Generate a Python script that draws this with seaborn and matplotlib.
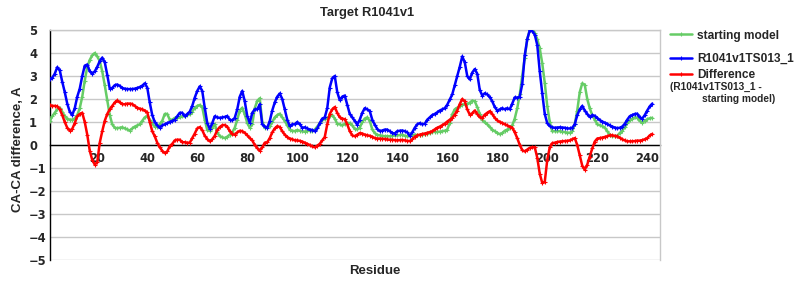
import numpy as np
import pandas as pd
import matplotlib
matplotlib.use("Agg")
import matplotlib.pyplot as plt
import seaborn as sns
from matplotlib.ticker import MultipleLocator

# ---- data ----
residues = list(range(1, 243))

starting_model = [
    1.04, 1.25, 1.4, 1.55, 1.62, 1.45, 1.25, 1.15, 1.1, 1.1,
    1.15, 1.3, 1.6, 2.1, 2.8, 3.4, 3.7, 3.9, 4.0, 3.85,
    3.65, 3.2, 2.6, 1.95, 1.3, 0.9, 0.75, 0.73, 0.75, 0.77,
    0.72, 0.68, 0.63, 0.72, 0.8, 0.85, 0.9, 1.05, 1.2, 1.25,
    1.1, 0.95, 0.8, 0.8, 0.9, 1.05, 1.35, 1.35, 1.1, 1.1,
    1.18, 1.18, 1.2, 1.25, 1.25, 1.3, 1.35, 1.45, 1.62, 1.7,
    1.74, 1.65, 1.1, 0.65, 0.62, 0.75, 0.9, 0.55, 0.38, 0.34,
    0.3, 0.36, 0.45, 0.55, 0.75, 1.1, 1.5, 1.62, 1.33, 0.96,
    0.75, 0.9, 1.6, 1.92, 2.03, 1.0, 0.75, 0.78, 0.82, 1.0,
    1.2, 1.3, 1.36, 1.2, 1.05, 0.85, 0.67, 0.62, 0.6, 0.65,
    0.62, 0.6, 0.58, 0.62, 0.62, 0.6, 0.67, 0.8, 0.95, 1.08,
    1.15, 1.18, 1.25, 1.3, 1.15, 0.92, 0.9, 0.85, 0.92, 0.96,
    0.95, 0.85, 0.7, 0.68, 0.75, 1.0, 1.15, 1.2, 1.05, 0.68,
    0.52, 0.44, 0.42, 0.4, 0.38, 0.38, 0.38, 0.4, 0.42, 0.42,
    0.43, 0.45, 0.4, 0.38, 0.38, 0.43, 0.45, 0.42, 0.43, 0.45,
    0.47, 0.5, 0.54, 0.57, 0.57, 0.57, 0.58, 0.6, 0.62, 0.67,
    0.95, 1.33, 1.55, 1.62, 1.7, 1.76, 1.77, 1.78, 1.84, 1.93,
    1.9, 1.65, 1.35, 1.1, 0.98, 0.9, 0.78, 0.67, 0.6, 0.53,
    0.47, 0.52, 0.62, 0.67, 0.73, 0.85, 1.15, 1.6, 2.2, 3.0,
    3.8, 4.6, 5.0, 5.0, 4.85, 4.6, 4.2, 3.55, 2.7, 1.7,
    1.0, 0.6, 0.6, 0.6, 0.6, 0.58, 0.56, 0.54, 0.53, 0.6,
    0.9, 1.5, 2.3, 2.68, 2.62, 2.0, 1.6, 1.3, 1.1, 0.9,
    0.86, 0.82, 0.76, 0.6, 0.45, 0.38, 0.38, 0.4, 0.52, 0.62,
    0.78, 0.95, 1.07, 1.14, 1.2, 1.18, 1.05, 0.97, 1.05, 1.12,
    1.16, 1.18,
]

model_ts013 = [
    2.87, 2.92, 3.1, 3.38, 3.25, 2.75, 2.3, 1.8, 1.45, 1.3,
    1.6, 2.1, 2.45, 3.0, 3.45, 3.5, 3.2, 3.1, 3.2, 3.4,
    3.65, 3.8, 3.6, 3.05, 2.45, 2.48, 2.6, 2.63, 2.57, 2.48,
    2.45, 2.43, 2.43, 2.43, 2.45, 2.48, 2.52, 2.58, 2.68, 2.5,
    1.85, 1.3, 1.0, 0.85, 0.75, 0.85, 0.9, 0.95, 1.0, 1.05,
    1.1, 1.25, 1.4, 1.4, 1.25, 1.35, 1.45, 1.7, 2.06, 2.35,
    2.55, 2.35, 1.62, 0.96, 0.7, 0.95, 1.25, 1.2, 1.18, 1.2,
    1.22, 1.26, 1.1, 1.07, 1.18, 1.55, 2.1, 2.35, 1.9, 1.26,
    0.96, 1.4, 1.55, 1.55, 1.77, 0.9, 0.8, 0.75, 1.04, 1.5,
    1.85, 2.1, 2.24, 2.0, 1.55, 1.1, 0.82, 0.9, 0.9, 1.0,
    0.9, 0.75, 0.77, 0.72, 0.67, 0.65, 0.6, 0.72, 0.95, 1.15,
    1.2, 1.6, 2.5, 2.9, 3.0, 2.3, 1.95, 2.1, 2.15, 1.75,
    1.35, 1.2, 1.05, 0.88, 1.1, 1.4, 1.6, 1.55, 1.48, 1.1,
    0.88, 0.7, 0.6, 0.63, 0.67, 0.67, 0.6, 0.52, 0.5, 0.6,
    0.62, 0.63, 0.6, 0.55, 0.4, 0.55, 0.75, 0.9, 0.95, 0.9,
    0.92, 1.1, 1.2, 1.3, 1.35, 1.42, 1.5, 1.55, 1.6, 1.75,
    1.98, 2.2, 2.6, 3.0, 3.4, 3.85, 3.6, 3.0, 2.85, 3.15,
    3.3, 3.1, 2.4, 2.15, 2.25, 2.2, 2.08, 1.9, 1.65, 1.5,
    1.55, 1.6, 1.55, 1.6, 1.55, 1.8, 2.07, 2.06, 2.1, 2.65,
    3.9, 4.6, 4.98, 4.95, 4.8, 4.35, 3.2, 2.25, 1.35, 0.95,
    0.82, 0.77, 0.75, 0.76, 0.77, 0.76, 0.75, 0.72, 0.72, 0.75,
    0.9, 1.3, 1.55, 1.7, 1.5, 1.35, 1.22, 1.3, 1.27, 1.18,
    1.08, 1.02, 0.97, 0.92, 0.85, 0.8, 0.76, 0.73, 0.75, 0.8,
    0.92, 1.1, 1.25, 1.3, 1.35, 1.36, 1.2, 1.15, 1.3, 1.5,
    1.68, 1.8,
]

difference = [
    1.74, 1.7, 1.7, 1.68, 1.55, 1.3, 1.0, 0.75, 0.63, 0.7,
    0.95, 1.25, 1.35, 1.4, 1.0, 0.45, -0.25, -0.65, -0.85, -0.75,
    0.1, 0.6, 1.05, 1.35, 1.55, 1.7, 1.85, 1.94, 1.85, 1.78,
    1.77, 1.8, 1.8, 1.78, 1.7, 1.62, 1.58, 1.55, 1.5, 1.42,
    1.0, 0.6, 0.38, 0.1, -0.1, -0.25, -0.35, -0.28, -0.05, 0.05,
    0.2, 0.23, 0.23, 0.12, 0.12, 0.1, 0.1, 0.3, 0.5, 0.72,
    0.78, 0.65, 0.4, 0.26, 0.16, 0.25, 0.4, 0.65, 0.78, 0.86,
    0.87, 0.8, 0.6, 0.48, 0.45, 0.55, 0.62, 0.6, 0.53, 0.42,
    0.3, 0.2, 0.0, -0.13, -0.25, -0.1, 0.1, 0.12, 0.3, 0.55,
    0.72, 0.82, 0.78, 0.6, 0.45, 0.35, 0.28, 0.25, 0.2, 0.2,
    0.18, 0.15, 0.1, 0.05, 0.0, -0.06, -0.1, -0.03, 0.05, 0.2,
    0.35, 0.9, 1.35, 1.55, 1.65, 1.4, 1.2, 1.15, 1.12, 0.9,
    0.6, 0.42, 0.38, 0.45, 0.52, 0.5, 0.45, 0.42, 0.4, 0.36,
    0.3, 0.28, 0.28, 0.27, 0.26, 0.24, 0.23, 0.23, 0.21, 0.2,
    0.21, 0.22, 0.2, 0.18, 0.17, 0.25, 0.36, 0.42, 0.45, 0.48,
    0.5, 0.53, 0.56, 0.6, 0.68, 0.75, 0.8, 0.86, 0.93, 1.02,
    1.1, 1.18, 1.32, 1.5, 1.78, 2.0, 1.9, 1.55, 1.32, 1.38,
    1.5, 1.35, 1.2, 1.18, 1.32, 1.4, 1.47, 1.35, 1.18, 1.07,
    1.0, 0.96, 0.9, 0.85, 0.8, 0.76, 0.55, 0.3, 0.0, -0.22,
    -0.28, -0.2, -0.12, -0.1, -0.1, -0.55, -1.25, -1.65, -1.6, -0.65,
    -0.1, 0.08, 0.1, 0.13, 0.15, 0.16, 0.17, 0.18, 0.2, 0.25,
    0.3, 0.0, -0.45, -0.9, -1.08, -0.85, -0.5, -0.15, 0.15, 0.28,
    0.3, 0.32, 0.35, 0.38, 0.42, 0.42, 0.4, 0.37, 0.32, 0.25,
    0.2, 0.16, 0.16, 0.16, 0.17, 0.19, 0.19, 0.21, 0.25, 0.3,
    0.42, 0.48,
]

series_names = ["starting model", "R1041v1TS013_1", "Difference"]
series_colors = ["#66cc66", "#0000ff", "#ff0000"]
title = "Target R1041v1"
x_label = "Residue"
y_label = "CA-CA difference, A"
diff_note_1 = "(R1041v1TS013_1 -"
diff_note_2 = "starting model)"
x_ticks = list(range(20, 245, 20))
y_ticks = list(range(-5, 6))

# ---- plotting ----
sns.set_style("white")
plt.rcParams["font.family"] = ["Liberation Sans", "DejaVu Sans"]

fig = plt.figure(figsize=(8, 3), dpi=100)
ax = fig.add_axes([0.0625, 0.1333, 0.7625, 0.7667])

for vals, name, col in zip([starting_model, model_ts013, difference],
                           series_names, series_colors):
    df = pd.DataFrame({"Residue": residues, "value": vals})
    sns.lineplot(data=df, x="Residue", y="value", color=col, lw=1.8,
                 marker="+", markersize=3, markeredgewidth=0.8,
                 markeredgecolor=col, label=name, ax=ax, zorder=3)

ax.set_xlim(1.1, 245.1)
ax.set_ylim(-5, 5)
ax.xaxis.set_minor_locator(MultipleLocator(10))
ax.set_xticks(x_ticks)
ax.set_yticks(y_ticks)
ax.grid(axis="y", color="#c8c8c8", lw=1, zorder=0)
ax.set_axisbelow(True)

for s in ["top", "right"]:
    ax.spines[s].set_color("#c8c8c8")
    ax.spines[s].set_linewidth(1)
ax.spines["left"].set_color("black")
ax.spines["left"].set_linewidth(1)
ax.spines["bottom"].set_position(("data", 0))
ax.spines["bottom"].set_color("black")
ax.spines["bottom"].set_linewidth(1)
ax.spines["bottom"].set_zorder(2)

ax.tick_params(axis="x", which="both", direction="out", length=3,
               color="#999999", pad=2)
ax.tick_params(axis="y", length=0, pad=15)
ax.set_xticklabels([str(t) for t in x_ticks], fontweight="bold",
                   fontsize=8.3, family="DejaVu Sans")
ax.set_yticklabels([str(v).replace("-", "\u2212") for v in y_ticks],
                   fontweight="bold", fontsize=8.3, family="DejaVu Sans",
                   ha="left")

fig.text(367 / 800, 1 - 13 / 300, title, fontsize=9.3, fontweight="bold",
         ha="center", va="center")
ax.set_xlabel(x_label, fontsize=9.5, fontweight="bold")
ax.xaxis.set_label_coords(0.533, -0.02)
ax.set_ylabel(y_label, fontsize=9.5, fontweight="bold")
ax.yaxis.set_label_coords(-0.043, 0.48)

# legend: first two entries, then the difference entry on its own
h, l = ax.get_legend_handles_labels()
leg_prop = {"family": "Liberation Sans", "weight": "bold", "size": 8.6}
leg1 = ax.legend(h[:2], l[:2], loc="upper left",
                 bbox_to_anchor=(670 / 800, 1 - 29.5 / 300),
                 bbox_transform=fig.transFigure, frameon=False,
                 prop=leg_prop, handlelength=1.85, handletextpad=0.45,
                 labelspacing=0.95, borderaxespad=0, borderpad=0)
ax.add_artist(leg1)
ax.legend(h[2:], l[2:], loc="center left",
          bbox_to_anchor=(670 / 800, 1 - 75.5 / 300),
          bbox_transform=fig.transFigure, frameon=False,
          prop=leg_prop, handlelength=1.85, handletextpad=0.45,
          borderaxespad=0, borderpad=0)
fig.text(670 / 800, 1 - 87 / 300, diff_note_1, fontsize=7.3,
         fontweight="bold", ha="left", va="center")
fig.text(702 / 800, 1 - 98.5 / 300, diff_note_2, fontsize=7.3,
         fontweight="bold", ha="left", va="center")

fig.savefig("out.png", dpi=100, facecolor="white")
